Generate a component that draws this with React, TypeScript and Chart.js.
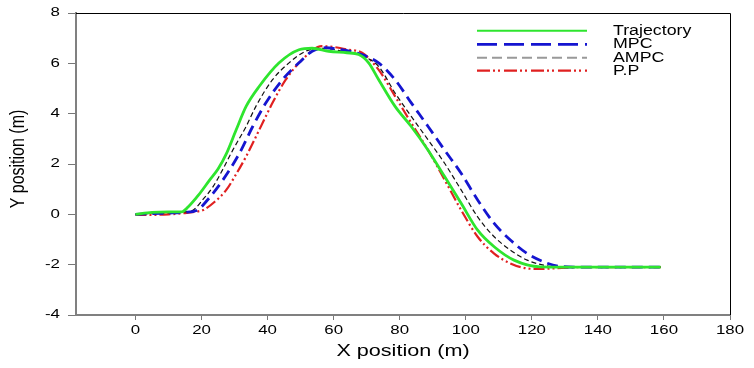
import React, { useEffect, useRef } from "react";
import { Chart, registerables } from "chart.js";

Chart.register(...registerables);

const seriesLabels = ["Trajectory", "MPC", "AMPC", "P.P"];

const trajX = [0, 5, 10, 14, 16, 19, 22.5, 25, 27.5, 30.5, 33.5, 37.5, 43.5, 49.5, 53.5, 58.5, 64, 67.6, 70.6, 73.6, 78.6, 83.5, 88.6, 93.6, 98.6, 103.6, 108.6, 114.6, 122.6, 130, 140, 150, 159];
const trajY = [0, 0.08, 0.1, 0.1, 0.3, 0.75, 1.37, 1.8, 2.4, 3.36, 4.29, 5.09, 6.02, 6.54, 6.6, 6.48, 6.42, 6.35, 6.02, 5.36, 4.29, 3.49, 2.55, 1.5, 0.44, -0.63, -1.29, -1.82, -2.09, -2.1, -2.1, -2.1, -2.1];

const mpcX = [0, 5, 10, 15, 18.5, 22, 26.5, 31.5, 35.5, 39.5, 44.5, 49.5, 53.5, 57.5, 62, 68.5, 73.6, 78.6, 83.5, 88.6, 93.6, 98.6, 103.6, 108.6, 113.5, 118.6, 123.6, 128.6, 135, 145, 159];
const mpcY = [0, 0.03, 0.05, 0.08, 0.15, 0.6, 1.37, 2.43, 3.49, 4.43, 5.35, 6.02, 6.48, 6.62, 6.55, 6.35, 6.02, 5.35, 4.43, 3.49, 2.55, 1.63, 0.57, -0.36, -1.02, -1.56, -1.89, -2.07, -2.1, -2.1, -2.1];

const ampcX = [0, 5, 10, 15, 17.5, 20.5, 23.5, 26.5, 29.5, 33.5, 36.5, 41.5, 46.5, 51.5, 56, 62, 68.5, 73.6, 78.6, 83.5, 88.6, 93.6, 98.6, 103.6, 108.6, 113.5, 118.6, 123.6, 128.6, 140, 159];
const ampcY = [0, 0.03, 0.06, 0.1, 0.17, 0.6, 1.1, 1.8, 2.56, 3.49, 4.3, 5.35, 6.02, 6.48, 6.6, 6.5, 6.3, 5.88, 4.82, 3.89, 2.96, 2.03, 0.97, -0.1, -0.89, -1.42, -1.82, -2.02, -2.1, -2.1, -2.1];

const ppX = [0, 5, 10, 15, 18, 20.5, 24, 27.5, 30.5, 33.5, 37.5, 41.5, 45.5, 50.5, 56.5, 60, 64, 68.6, 73.6, 78.6, 83.5, 88.6, 93.6, 98.6, 103.6, 108.6, 113.5, 118.6, 122, 126, 135, 159];
const ppY = [-0.02, -0.02, 0, 0.05, 0.1, 0.17, 0.5, 0.97, 1.6, 2.3, 3.36, 4.43, 5.35, 6.15, 6.68, 6.65, 6.55, 6.42, 5.75, 4.69, 3.63, 2.55, 1.37, 0.17, -0.89, -1.56, -1.95, -2.15, -2.17, -2.15, -2.1, -2.1];

const xTicks = [0, 20, 40, 60, 80, 100, 120, 140, 160, 180];
const yTicks = [-4, -2, 0, 2, 4, 6, 8];
const xTitle = "X position (m)";
const yTitle = "Y position (m)";

const FONT = '"Liberation Sans", Arial, sans-serif';
const STRETCH = 1.35;

function stretchedText(ctx: CanvasRenderingContext2D, text: string, x: number, y: number, align: "left" | "center" | "right", k: number) {
  const w = ctx.measureText(text).width * k;
  let x0 = x;
  if (align === "center") x0 = x - w / 2;
  else if (align === "right") x0 = x - w;
  ctx.save();
  ctx.translate(x0, y);
  ctx.scale(k, 1);
  ctx.textAlign = "left";
  ctx.fillText(text, 0, 0);
  ctx.restore();
}

const decorPlugin = {
  id: "decor",
  afterDraw(chart: any) {
    const ctx: CanvasRenderingContext2D = chart.ctx;
    const { top, bottom, left, right } = chart.chartArea;
    const xs = chart.scales.x;
    const ys = chart.scales.y;
    ctx.save();
    ctx.strokeStyle = "#000";
    ctx.lineWidth = 1;
    ctx.beginPath();
    ctx.moveTo(left, top + 0.5);
    ctx.lineTo(right + 0.5, top + 0.5);
    ctx.lineTo(right + 0.5, bottom);
    ctx.stroke();

    ctx.fillStyle = "#000";
    ctx.textBaseline = "middle";
    ctx.font = `12.5px ${FONT}`;
    yTicks.forEach((v) => {
      stretchedText(ctx, String(v), 60, ys.getPixelForValue(v), "right", STRETCH);
    });
    xTicks.forEach((v) => {
      stretchedText(ctx, String(v), xs.getPixelForValue(v), 331, "center", STRETCH);
    });
    ctx.font = `16px ${FONT}`;
    stretchedText(ctx, xTitle, (left + right) / 2, 352, "center", STRETCH);
    ctx.save();
    ctx.translate(18, 159);
    ctx.scale(1.3, 1);
    ctx.rotate(-Math.PI / 2);
    ctx.textAlign = "center";
    ctx.fillText(yTitle, 0, 0);
    ctx.restore();

    const rows = [30.7, 44.3, 57.7, 70.7];
    chart.data.datasets.forEach((ds: any, i: number) => {
      const y = rows[i];
      ctx.save();
      ctx.strokeStyle = ds.legendColor || ds.borderColor;
      ctx.lineWidth = ds.legendWidth || ds.borderWidth;
      ctx.setLineDash(ds.legendDash || ds.borderDash || []);
      ctx.beginPath();
      ctx.moveTo(477, y);
      ctx.lineTo(587, y);
      ctx.stroke();
      ctx.restore();
      ctx.font = `14px ${FONT}`;
      ctx.fillStyle = "#000";
      stretchedText(ctx, ds.label, 613, y, "left", 1.27);
    });
    ctx.restore();
  },
};

function pts(xs: number[], ys: number[]) {
  return xs.map((x, i) => ({ x, y: ys[i] }));
}

export default function App() {
  const ref = useRef<HTMLCanvasElement>(null);
  useEffect(() => {
    const canvas = ref.current!;
    const chart = new Chart(canvas, {
      type: "line",
      data: {
        datasets: [
          { label: seriesLabels[0], data: pts(trajX, trajY), borderColor: "#2ee52e", borderWidth: 2.8, pointRadius: 0, cubicInterpolationMode: "monotone", legendWidth: 2 } as any,
          { label: seriesLabels[1], data: pts(mpcX, mpcY), borderColor: "#1515d0", borderWidth: 2.8, borderDash: [11, 6], pointRadius: 0, cubicInterpolationMode: "monotone", legendDash: [20, 7] } as any,
          { label: seriesLabels[2], data: pts(ampcX, ampcY), borderColor: "#111", borderWidth: 1.2, borderDash: [5, 3], pointRadius: 0, cubicInterpolationMode: "monotone", legendColor: "#999", legendWidth: 2, legendDash: [10, 5] } as any,
          { label: seriesLabels[3], data: pts(ppX, ppY), borderColor: "#e02020", borderWidth: 2.2, borderDash: [11, 3, 2, 3, 2, 3], pointRadius: 0, cubicInterpolationMode: "monotone", legendDash: [13, 3, 2, 3, 2, 4] } as any,
        ],
      },
      options: {
        animation: false,
        responsive: false,
        maintainAspectRatio: false,
        devicePixelRatio: 1,
        layout: { padding: { left: 0, top: 13, right: 24, bottom: 0 } },
        plugins: { legend: { display: false }, tooltip: { enabled: false } },
        scales: {
          x: {
            type: "linear",
            min: -18,
            max: 180,
            afterBuildTicks: (s: any) => { s.ticks = xTicks.map((v) => ({ value: v })); },
            afterFit: (s: any) => { s.height = 53; },
            ticks: { display: false },
            grid: { display: true, drawOnChartArea: false, drawTicks: true, tickLength: 5, color: "#777", lineWidth: 1 },
            border: { display: true, color: "#808080", width: 2 },
          },
          y: {
            type: "linear",
            min: -4,
            max: 8,
            afterBuildTicks: (s: any) => { s.ticks = yTicks.map((v) => ({ value: v })); },
            afterFit: (s: any) => { s.width = 76; },
            ticks: { display: false },
            grid: { display: true, drawOnChartArea: false, drawTicks: true, tickLength: 8, color: "#777", lineWidth: 1 },
            border: { display: true, color: "#808080", width: 2 },
          },
        },
      } as any,
      plugins: [decorPlugin],
    });
    return () => chart.destroy();
  }, []);
  return (
    <div style={{ position: "fixed", left: 0, top: 0, width: 754, height: 368, background: "#fff" }}>
      <canvas ref={ref} width={754} height={368} />
    </div>
  );
}
